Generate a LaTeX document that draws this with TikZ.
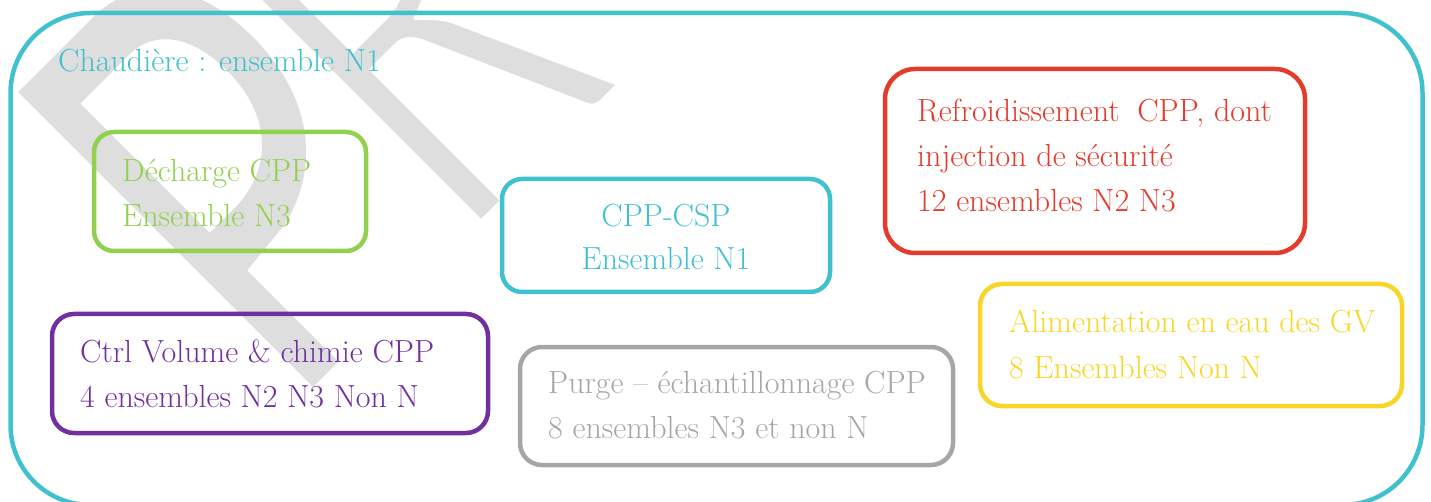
\documentclass[tikz,border=0pt]{standalone}
\usepackage{fontspec}
\usepackage{graphicx}
\newfontfamily\wmfont{Carlito}

\definecolor{ccyan}{RGB}{64,193,207}
\definecolor{cgreen}{RGB}{146,208,80}
\definecolor{cred}{RGB}{228,59,44}
\definecolor{cpurple}{RGB}{112,48,160}
\definecolor{cgrey}{RGB}{166,166,166}
\definecolor{cyellow}{RGB}{246,215,40}
\definecolor{wmgrey}{RGB}{222,222,222}

% glyphs filled grey and outlined in white, which makes the strokes thinner
\newcommand{\thinglyphs}[1]{%
  \special{pdf:literal direct 1 1 1 RG 15 w 2 Tr}#1%
  \special{pdf:literal direct 0 Tr 1 w}}

\tikzset{
  panel/.style={draw=#1, line width=4.5pt, inner sep=0pt, rectangle},
  lbl/.style={text=#1, inner sep=0pt, anchor=base west,
    font=\fontsize{32}{45}\selectfont},
}

\begin{document}
\begin{tikzpicture}[x=1pt, y=-1pt]
\useasboundingbox (0,0) rectangle (1431,502);
\begin{scope}
\clip (0,0) rectangle (1431,502);

% background watermark: a tall "P" drawn as an outline, then the "R"
\begin{scope}[shift={(313,387)}, x={(0.7071pt,0.7071pt)}, y={(-0.7071pt,0.7071pt)}]
  \fill[wmgrey, even odd rule]
    (0,0) -- (0,417) -- (105,417)
      .. controls (168,417) and (205,368) .. (205,290)
      .. controls (205,205) and (160,150) .. (95,135)
      -- (36,129) -- (36,0) -- cycle
    (36,365) -- (105,365)
      .. controls (140,365) and (163,335) .. (163,285)
      .. controls (163,225) and (130,185) .. (75,182)
      -- (36,182) -- cycle;
\end{scope}
\node[anchor=base west, inner sep=0pt, rotate=45, text=wmgrey] (wm) at (291,425)
  {\scalebox{1}[1.5]{\wmfont\fontsize{463}{463}\selectfont\thinglyphs{\phantom{P}R}}};

% outer container
\node[panel=ccyan, rounded corners=80pt, minimum width=1412pt, minimum height=492pt]
  (chaudiere) at (716.5,259) {};
\node[lbl=ccyan] (chaudiere-text) at (58,72) {Chaudière : ensemble N1};

% inner blocks
\node[panel=cgreen, rounded corners=20pt, minimum width=272pt, minimum height=119pt]
  (decharge) at (230,191.5) {};
\node[lbl=cgreen] (decharge-text) at (122,182)
  {\begin{tabular}[t]{@{}l@{}}Décharge CPP\\Ensemble N3\end{tabular}};

\node[panel=ccyan, rounded corners=20pt, minimum width=328pt, minimum height=113pt]
  (cppcsp) at (666,235.5) {};
\node[text=ccyan, inner sep=0pt, anchor=base, font=\fontsize{32}{43}\selectfont]
  (cppcsp-text) at (666,227)
  {\begin{tabular}[t]{@{}c@{}}CPP-CSP\\Ensemble N1\end{tabular}};

\node[panel=cred, rounded corners=30pt, minimum width=420pt, minimum height=184pt]
  (refroid) at (1095,161) {};
\node[lbl=cred] (refroid-text) at (917,122)
  {\begin{tabular}[t]{@{}l@{}}Refroidissement\hspace{0.55em}CPP, dont\\injection de sécurité\\12 ensembles N2 N3\end{tabular}};

\node[panel=cpurple, rounded corners=22pt, minimum width=436pt, minimum height=119pt]
  (volume) at (270,373.5) {};
\node[lbl=cpurple] (volume-text) at (80,362)
  {\begin{tabular}[t]{@{}l@{}}Ctrl Volume \& chimie CPP\\4 ensembles N2 N3 Non N\end{tabular}};

\node[panel=cgrey, rounded corners=22pt, minimum width=433pt, minimum height=118pt]
  (purge) at (736.5,406) {};
\node[lbl=cgrey] (purge-text) at (548,393)
  {\begin{tabular}[t]{@{}l@{}}Purge – échantillonnage CPP\\8 ensembles N3 et non N\end{tabular}};

\node[panel=cyellow, rounded corners=22pt, minimum width=422pt, minimum height=122pt]
  (alim) at (1191,345) {};
\node[lbl=cyellow] (alim-text) at (1009,333)
  {\begin{tabular}[t]{@{}l@{}}Alimentation en eau des GV\\8 Ensembles Non N\end{tabular}};
\end{scope}
\end{tikzpicture}
\end{document}
